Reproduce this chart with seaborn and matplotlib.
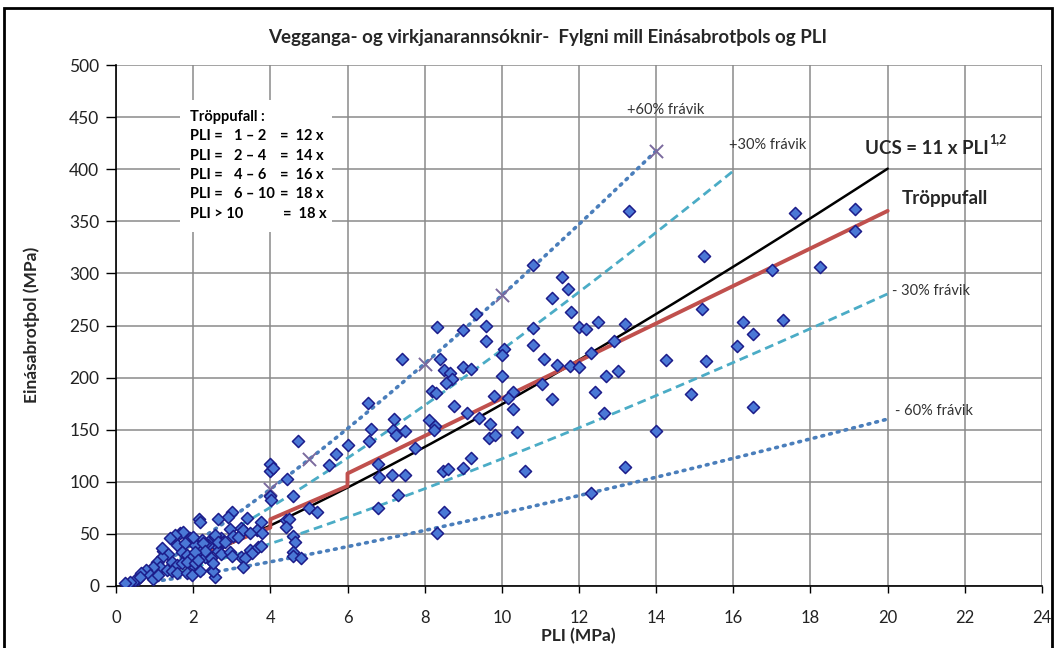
import numpy as np
import pandas as pd
import matplotlib
matplotlib.use("Agg")
import matplotlib.pyplot as plt
import seaborn as sns
from matplotlib.patches import Rectangle

# ---------------- data ----------------
pli = [
    13.3, 17.6, 19.15, 19.15, 15.25, 17.0, 18.25, 15.2, 12.5, 13.2, 16.25, 17.3, 16.5, 12.9, 16.1,
    12.7, 13.0, 14.25, 15.3, 14.9, 12.65, 16.5, 14.0, 11.05, 11.3, 12.42, 13.2, 12.3,
    10.8, 11.56, 11.72, 11.3, 11.8, 9.33, 8.31, 9.0, 9.59, 10.8, 12.0, 12.18, 9.6, 10.8,
    7.42, 8.4, 10.06, 10.0, 11.08, 8.5, 8.65, 8.72, 9.0, 9.19, 8.56, 8.2, 8.3, 10.0,
    11.42, 11.76, 12.0, 12.3, 10.28, 9.8, 10.15,
    8.75, 9.09, 9.42, 8.1, 8.28, 8.25, 10.3, 9.7, 9.66, 9.82, 10.4, 9.2, 9.0, 8.47, 8.6, 10.6, 8.51, 8.31,
    7.74, 7.18, 7.26, 7.5, 6.6, 6.57, 7.2, 6.53, 6.8, 6.81, 7.15, 7.5, 7.3, 6.8, 6.0, 5.69, 5.51,
    4.72, 4.0, 4.0, 4.08, 4.42, 4.59, 3.98, 4.02, 5.0, 5.22, 3.77, 4.4, 4.48, 4.4, 4.59, 4.65,
    4.6, 4.58, 4.8, 3.47, 3.52, 3.68, 3.77, 3.66, 3.79,
    2.16, 2.19, 3.01, 2.91, 2.65, 3.4, 2.95, 3.23, 3.28, 3.02, 2.73, 2.78, 3.16, 3.47,
    2.43, 2.56, 2.59, 2.39, 2.22, 2.3, 2.09, 2.17, 1.91, 2.02, 2.65, 2.71,
    3.25, 3.34, 2.43, 2.3, 2.5, 2.56, 2.0, 2.07, 1.91,
    1.66, 1.48, 1.57, 1.79, 2.04, 1.22, 1.35, 1.18, 1.7, 1.83, 1.96, 1.05, 1.14, 0.97,
    1.44, 1.57, 1.7, 1.83, 2.04, 1.31, 1.44, 1.57, 0.79, 0.66, 0.88, 0.97, 1.09, 0.58, 0.49,
    0.36, 0.23, 1.83, 1.96, 2.17, 2.26, 2.3,
    1.74, 1.53, 1.4, 1.18, 2.52, 3.29, 2.0, 2.04, 2.13, 2.46, 2.52, 2.95, 3.0, 2.56, 2.65, 2.82, 0.62,
]
ucs = [
    360, 358, 362, 341, 317, 303, 306, 266, 253, 251, 253, 255, 242, 235, 230,
    202, 206, 217, 216, 184, 166, 172, 149, 194, 179, 186, 114, 89,
    308, 297, 285, 276, 263, 261, 249, 246, 250, 248, 249, 247, 235, 231,
    218, 218, 227, 222, 218, 207, 204, 199, 210, 208, 195, 187, 185, 202,
    212, 211, 210, 224, 186, 182, 180,
    173, 166, 161, 159, 154, 150, 170, 155, 142, 145, 148, 123, 113, 110, 112, 110, 71, 51,
    132, 150, 145, 149, 151, 139, 160, 176, 117, 105, 107, 107, 87, 75, 135, 127, 116,
    139, 117, 110, 113, 103, 86, 86, 83, 75, 71, 61, 63, 64, 57, 48, 42,
    33, 29, 27, 35, 32, 37, 38, 54, 51,
    64, 61, 71, 66, 64, 65, 55, 56, 54, 48, 46, 42, 47, 51,
    44, 47, 39, 39, 44, 40, 38, 35, 46, 42, 34, 31,
    28, 27, 25, 28, 15, 9, 20, 23, 25,
    51, 44, 39, 41, 39, 34, 31, 28, 33, 30, 28, 23, 18, 18,
    23, 20, 22, 23, 22, 15, 14, 12, 15, 12, 11, 7, 11, 7, 6,
    4, 3, 12, 11, 14, 41, 34,
    52, 49, 46, 36, 14, 18, 47, 33, 25, 27, 22, 33, 29, 49, 42, 42, 9,
]

# Tröppufall (step) table
step_breaks = [1, 2, 4, 6, 10, 20]
step_factors = [12, 14, 16, 18, 18]

# UCS = 11 x PLI^1.2 and deviation bands
ucs_coef = 11
ucs_exp = 1.2
band_factors = [1.6, 1.3, 0.7, 0.4]       # +60%, +30%, -30%, -60%
band_end = [14, 16, 20, 20]
cross_pli = [4, 5, 8, 10, 14]              # X markers on +60% line

xtick_vals = list(range(0, 25, 2))
ytick_vals = list(range(0, 501, 50))

# ---------------- figure ----------------
sns.set_theme(style="white")
plt.rcParams['font.family'] = ['Lato', 'DejaVu Sans']

fig = plt.figure(figsize=(10.56, 6.48), dpi=100)
ax = fig.add_axes([116/1056, 1-586/648, (1042-116)/1056, (586-65)/648])

grid_c = "#8a8a8a"
ax.set_axisbelow(True)
ax.grid(True, color=grid_c, lw=1.1)

def model(x, f=1.0):
    return f * ucs_coef * np.power(x, ucs_exp)

dot_c = "#4a7ebb"
dash_c = "#4bacc6"
for f, xe in zip(band_factors, band_end):
    xs = np.linspace(1, xe, 120)
    if f in (1.6, 0.4):
        sns.lineplot(x=xs, y=model(xs, f), ax=ax, color=dot_c, lw=2.6,
                     linestyle=(0, (0.5, 1.7)), dash_capstyle="round", estimator=None, sort=False, zorder=3)
    else:
        sns.lineplot(x=xs, y=model(xs, f), ax=ax, color=dash_c, lw=2.0,
                     linestyle=(0, (3.2, 1.8)), estimator=None, sort=False, zorder=3)

cx = np.array(cross_pli, dtype=float)
sns.scatterplot(x=cx, y=model(cx, band_factors[0]), ax=ax, marker="x", s=90,
                color="#7b6a9e", linewidth=1.4, zorder=5)

xs = np.linspace(1, 20, 200)
sns.lineplot(x=xs, y=model(xs), ax=ax, color="black", lw=1.8, estimator=None, sort=False, zorder=4)

sx, sy = [], []
for i, f in enumerate(step_factors):
    a, b = step_breaks[i], step_breaks[i+1]
    sx += [a, b]
    sy += [f*a, f*b]
sns.lineplot(x=sx, y=sy, ax=ax, color="#c0504d", lw=2.8, estimator=None, sort=False, zorder=4)

df = pd.DataFrame({"PLI": pli, "UCS": ucs})
sns.scatterplot(data=df, x="PLI", y="UCS", ax=ax, marker="D", s=38,
                color="#4a78d6", edgecolor="#1c1c8a", linewidth=1.1, zorder=6)

ax.set_xlim(0, 24)
ax.set_ylim(0, 500)
ax.set_xticks(xtick_vals)
ax.set_yticks(ytick_vals)
ax.tick_params(axis="x", direction="out", length=5, width=1, color="black", pad=12, labelsize=12, labelcolor="#222222")
ax.tick_params(axis="y", direction="out", length=7, width=1, color="black", pad=5, labelsize=12.5, labelcolor="#222222")
ax.tick_params(bottom=True, left=True)
for s in ["top", "right"]:
    ax.spines[s].set_visible(False)
for s in ["left", "bottom"]:
    ax.spines[s].set_color("black")
    ax.spines[s].set_linewidth(1.2)
ax.set_xlabel("")
ax.set_ylabel("")

# white text box
ax.add_patch(Rectangle((1.66, 340), 3.95, 126, facecolor="white", edgecolor="none", zorder=1))
tb = dict(fontsize=10.5, fontweight="bold", color="black", va="center", zorder=7)
ax.text(1.93, 450.5, "Tröppufall :", **tb)
rows = ["1 – 2", "2 – 4", "4 – 6", "6 – 10"]
ry = [431.4, 413.1, 394.6, 376.4]
for lab, y, f in zip(rows, ry, step_factors[:4]):
    ax.text(1.93, y, "PLI =", **tb)
    ax.text(3.05, y, lab, **tb)
    ax.text(4.24, y, f"=  {f} x", **tb)
ax.text(1.93, 357.2, "PLI > 10", **tb)
ax.text(4.33, 357.2, f"=  {step_factors[4]} x", **tb)

# annotations
ax.text(13.25, 457, "+60% frávik", fontsize=10.5, color="#333333", va="center", clip_on=False)
ax.text(15.9, 423, "+30% frávik", fontsize=10.5, color="#333333", va="center", clip_on=False)
t_ucs = ax.text(19.4, 420, "UCS = 11 x PLI", fontsize=13.5, fontweight="bold", va="center", clip_on=False)
ax.annotate("1,2", xy=(1.0, 0.72), xycoords=t_ucs, fontsize=9, fontweight="bold",
            va="bottom", ha="left", xytext=(1, 0), textcoords="offset points", annotation_clip=False)
ax.text(20.36, 372, "Tröppufall", fontsize=13.5, fontweight="bold", va="center", clip_on=False)
ax.text(20.1, 283, "- 30% frávik", fontsize=10.5, color="#333333", va="center", clip_on=False)
ax.text(20.2, 168, "- 60% frávik", fontsize=10.5, color="#333333", va="center", clip_on=False)

fig.text(548/1056, 1-37/648, "Vegganga- og virkjanarannsóknir-  Fylgni mill Einásabrotþols og PLI",
         ha="center", va="center", fontsize=13.5, fontweight="bold")
fig.text(578/1056, 1-636/648, "PLI (MPa)", ha="center", va="center", fontsize=12.5, fontweight="bold")
fig.text(32/1056, 1-325/648, "Einásabrotþol (MPa)", ha="center", va="center", rotation=90,
         fontsize=12.5, fontweight="bold")

fig.patches.append(Rectangle((4/1056, -0.05), (1052-4)/1056, 1.05-8/648, transform=fig.transFigure,
                             fill=False, edgecolor="black", lw=2.0))

fig.savefig("out.png", dpi=100)
